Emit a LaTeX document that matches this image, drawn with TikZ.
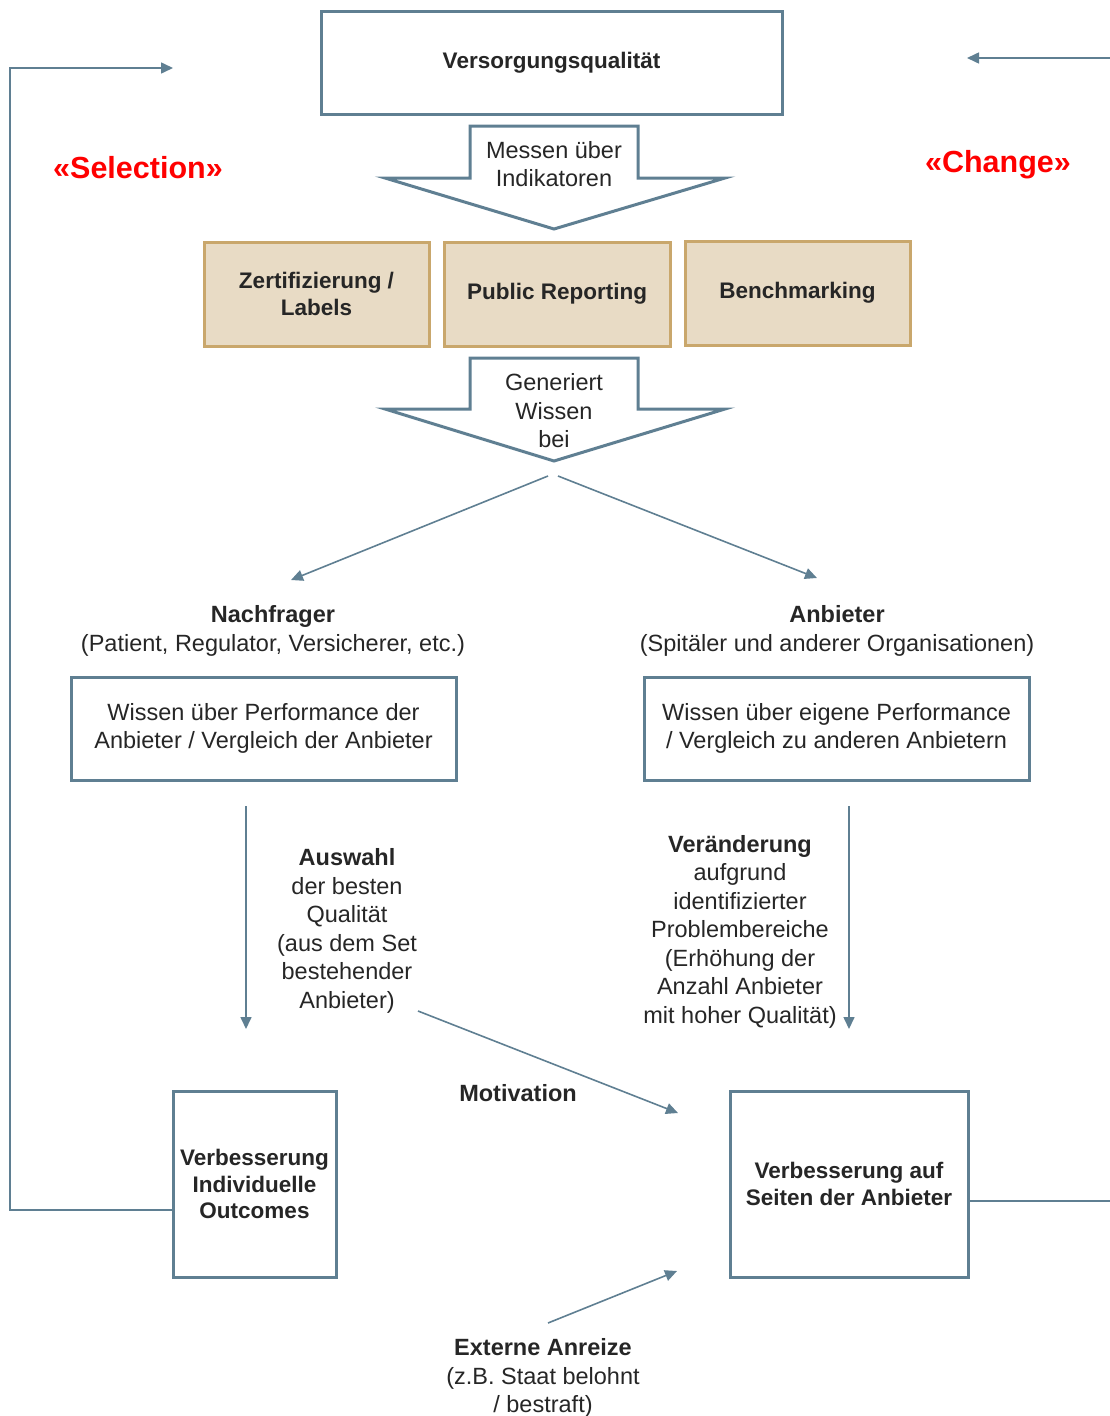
\documentclass[tikz,border=0pt]{standalone}
\usepackage{fontspec}
\setmainfont{Liberation Sans}
\usetikzlibrary{arrows.meta}
\definecolor{lineblue}{HTML}{5F7F92}
\definecolor{beige}{HTML}{E8DBC5}
\definecolor{tanc}{HTML}{C9A76C}
\definecolor{textc}{HTML}{262626}
\definecolor{redc}{HTML}{FF0000}
\begin{document}
\begin{tikzpicture}[x=1pt,y=-1pt,
  conn/.style={draw=lineblue, line width=1.6pt, -{Triangle[length=12pt,width=11pt]}},
  plainline/.style={draw=lineblue, line width=1.6pt},
  bluebox/.style={draw=lineblue, line width=3pt, fill=white, inner sep=0pt, align=center, text=textc, font=\fontsize{22.5}{26.5}\selectfont\bfseries},
  bluebreg/.style={draw=lineblue, line width=3pt, fill=white, inner sep=0pt, align=center, text=textc, font=\fontsize{23.5}{28.5}\selectfont},
  beigebox/.style={draw=tanc, fill=beige, line width=3pt, inner sep=0pt, align=center, text=textc, font=\fontsize{22.5}{26.5}\selectfont\bfseries},
  hollow/.style={draw=lineblue, line width=3pt, fill=white, line join=miter},
  txt/.style={align=center, text=textc, font=\fontsize{23.5}{28.5}\selectfont, inner sep=0pt},
  btxt/.style={align=center, text=textc, font=\fontsize{23.5}{28.5}\selectfont\bfseries, inner sep=0pt},
  redtxt/.style={text=redc, font=\fontsize{30.5}{36}\selectfont\bfseries, inner sep=0pt},
]
\useasboundingbox (0,0) rectangle (1110,1416);

% top box
\node[bluebox, minimum width=461pt, minimum height=103pt] (vq) at (551.5,62.5) {Versorgungsqualität};

% hollow arrow 1
\draw[hollow] (470,178) -- (470,126) -- (638,126) -- (638,178) -- (725,178) -- (554,229) -- (385,178) -- cycle;
\node[txt] (m1) at (554,164) {Messen über\\Indikatoren};

% beige boxes
\node[beigebox, minimum width=225pt, minimum height=104pt] (zl) at (316.5,294) {Zertifizierung /\\Labels};
\node[beigebox, minimum width=226pt, minimum height=104pt] (pr) at (557,294) {Public Reporting};
\node[beigebox, minimum width=225pt, minimum height=104pt] (bm) at (797.5,293) {Benchmarking};

% hollow arrow 2
\draw[hollow] (470,409) -- (470,358) -- (638,358) -- (638,409) -- (725,409) -- (554,461) -- (385,409) -- cycle;
\node[txt] (gw) at (554,411) {Generiert\\Wissen\\bei};

% diagonal arrows
\coordinate (sl) at (548,476);
\coordinate (sr) at (558,476);
\coordinate (el) at (291,580);
\coordinate (er) at (817,578);
\draw[conn] (sl) -- (el);
\draw[conn] (sr) -- (er);

% labels
\node[txt] (nf) at (273,631) {\textbf{Nachfrager}\\(Patient, Regulator, Versicherer, etc.)};
\node[txt] (ab) at (837,631) {\textbf{Anbieter}\\(Spitäler und anderer Organisationen)};

% knowledge boxes
\node[bluebreg, minimum width=385pt, minimum height=103pt] (wl) at (263.5,728.5) {Wissen über Performance der\\Anbieter / Vergleich der Anbieter};
\node[bluebreg, minimum width=385pt, minimum height=103pt] (wr) at (836.5,728.5) {Wissen über eigene Performance\\/ Vergleich zu anderen Anbietern};

% vertical arrows
\coordinate (vl1) at (246,806);
\coordinate (vl2) at (246,1029);
\coordinate (vr1) at (849,806);
\coordinate (vr2) at (849,1029);
\draw[conn] (vl1) -- (vl2);
\draw[conn] (vr1) -- (vr2);

\node[txt] (aw) at (347,931) {\textbf{Auswahl}\\der besten\\Qualität\\(aus dem Set\\bestehender\\Anbieter)};
\node[txt] (vd) at (740,931.5) {\textbf{Veränderung}\\aufgrund\\identifizierter\\Problembereiche\\(Erhöhung der\\Anzahl Anbieter\\mit hoher Qualität)};

% motivation
\coordinate (mo1) at (418,1011);
\coordinate (mo2) at (678,1113);
\draw[conn] (mo1) -- (mo2);
\node[btxt] (mot) at (518,1093) {Motivation};

% bottom boxes
\node[bluebox, minimum width=163pt, minimum height=186pt] (vio) at (254.5,1184) {Verbesserung\\Individuelle\\Outcomes};
\node[bluebox, minimum width=238pt, minimum height=186pt] (vsa) at (849,1184) {Verbesserung auf\\Seiten der Anbieter};

% feedback lines
\coordinate (rr) at (1110,1201);
\draw[plainline] (vsa.east |- rr) -- (rr);
\coordinate (tr1) at (1110,58);
\coordinate (tr2) at (967,58);
\draw[conn] (tr1) -- (tr2);
\coordinate (lb) at (10,1210);
\coordinate (lt) at (10,68);
\coordinate (le) at (173,68);
\draw[conn] (vio.west |- lb) -- (lb) -- (lt) -- (le);

% external incentives
\coordinate (ex1) at (548,1323);
\coordinate (ex2) at (677,1271);
\draw[conn] (ex1) -- (ex2);
\node[txt] (ea) at (543,1378) {\textbf{Externe Anreize}\\(z.B. Staat belohnt\\/ bestraft)};

% red labels
\node[redtxt] (sel) at (138,168) {«Selection»};
\node[redtxt] (chg) at (998,165) {«Change»};
\end{tikzpicture}
\end{document}
